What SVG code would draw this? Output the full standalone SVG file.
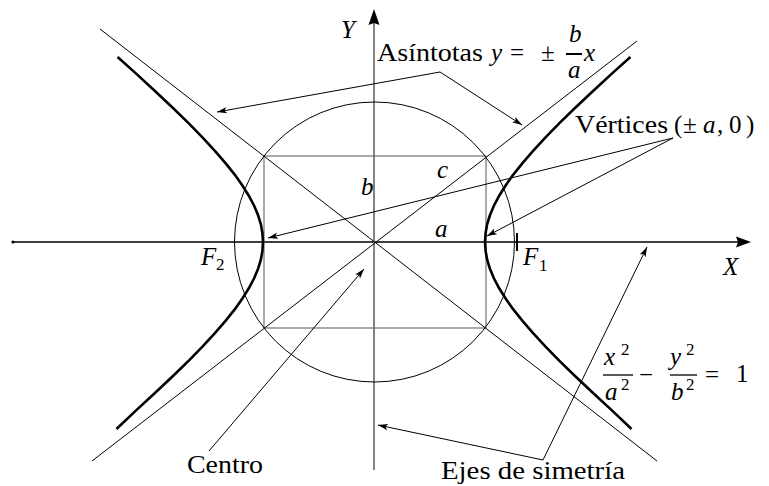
<svg xmlns="http://www.w3.org/2000/svg" width="769" height="486" viewBox="0 0 769 486" font-family="Liberation Serif, DejaVu Serif, serif">
<style>
text{font-family:'Liberation Serif','DejaVu Serif',serif;font-size:25px;fill:#000}
.i{font-style:italic}
.s{font-size:17px}
.thin{fill:none;stroke:#000;stroke-width:1}
.gray{fill:none;stroke:#666;stroke-width:1.1}
.curve{fill:none;stroke:#000;stroke-width:2.6;stroke-linejoin:round}
.lead{fill:none;stroke:#000;stroke-width:1}
</style>
<defs>
<marker id="ah" markerUnits="userSpaceOnUse" markerWidth="12" markerHeight="8" refX="10" refY="4" orient="auto-start-reverse">
<path d="M0,0.8 L10,4 L0,7.2 L2.5,4 Z" fill="#000"/>
</marker>
</defs>
<rect width="769" height="486" fill="#fff"/>

<g id="axes">
<line x1="13" y1="242" x2="740" y2="242" stroke="#000" stroke-width="1.4"/>
<circle cx="13" cy="242" r="1.6" fill="#000"/>
<path d="M751,242 L736,236.5 L738,242 L736,247.5 Z" fill="#000"/>
<line x1="374" y1="470" x2="374" y2="22" stroke="#777" stroke-width="1.8"/>
<path d="M374,9 L368.5,25 L374,23 L379.5,25 Z" fill="#000"/>
<line x1="517" y1="233" x2="517" y2="251" stroke="#000" stroke-width="2"/>
</g>

<g id="rectangle">
<rect x="264" y="156" width="222" height="172" class="gray"/>
</g>

<g id="circle">
<circle cx="374.5" cy="242" r="140" class="thin"/>
</g>

<g id="asymptotes">
<line x1="100" y1="29" x2="657" y2="461" class="thin"/>
<line x1="637" y1="41" x2="92" y2="461" class="thin"/>
</g>

<g id="hyperbola">
<polyline class="curve" points="630.4,57 612.7,72.9 592.8,91.2 575,108 559.2,123.4 545.3,137.6 533.1,150.8 522.5,163.1 513.3,174.6 505.6,185.5 499.2,195.7 494,205.5 490,215 487.2,224.1 485.6,233.1 485,242 485.6,250.9 487.2,259.9 490,269 494,278.5 499.2,288.3 505.6,298.5 513.3,309.4 522.5,320.9 533.1,333.2 545.3,346.4 559.2,360.6 575,376 592.8,392.8 612.7,411.1 631.5,429"/>
<polyline class="curve" points="117.6,57 135.3,72.9 155.2,91.2 173,108 188.8,123.4 202.7,137.6 214.9,150.8 225.5,163.1 234.7,174.6 242.4,185.5 248.8,195.7 254,205.5 258,215 260.8,224.1 262.4,233.1 263,242 262.4,250.9 260.8,259.9 258,269 254,278.5 248.8,288.3 242.4,298.5 234.7,309.4 225.5,320.9 214.9,333.2 202.7,346.4 188.8,360.6 173,376 155.2,392.8 135.3,411.1 116.5,429"/>
</g>

<g id="connectors">
<polyline class="lead" points="217,112 440,72 522,125" marker-start="url(#ah)" marker-end="url(#ah)"/>
<polyline class="lead" points="268,238 673,138 487,236" marker-start="url(#ah)" marker-end="url(#ah)"/>
<line class="lead" x1="209" y1="451" x2="364" y2="269" marker-end="url(#ah)"/>
<polyline class="lead" points="378,425 543,460 647,247" marker-start="url(#ah)" marker-end="url(#ah)"/>
</g>

<g id="labels">
<text class="i" x="341" y="38">Y</text>
<text class="i" x="723" y="275">X</text>
<text class="i" x="201" y="265">F</text><text class="s" x="216" y="270">2</text>
<text class="i" x="523" y="265">F</text><text class="s" x="539" y="271">1</text>
<text class="i" x="361" y="195">b</text>
<text class="i" x="437" y="178">c</text>
<text class="i" x="435" y="237">a</text>
</g>

<g id="asintotas-label">
<text x="377" y="61" textLength="106" lengthAdjust="spacingAndGlyphs">Asíntotas</text>
<text class="i" x="491" y="61">y</text>
<text x="510" y="61">=</text>
<text x="541" y="61">±</text>
<text class="i" x="569" y="42">b</text>
<line x1="566" y1="54" x2="582" y2="54" stroke="#000" stroke-width="2"/>
<text class="i" x="568" y="78">a</text>
<text class="i" x="584" y="61">x</text>
</g>

<g id="vertices-label">
<text x="575" y="133" textLength="93" lengthAdjust="spacingAndGlyphs">Vértices</text>
<text x="674" y="133">(</text>
<text x="683" y="133">±</text>
<text class="i" x="703" y="133">a</text>
<text x="717" y="133">,</text>
<text x="729" y="133">0</text>
<text x="746" y="133">)</text>
</g>

<g id="equation">
<text class="i" x="604" y="365">x</text><text class="s" x="621" y="355">2</text>
<line x1="603" y1="375" x2="633" y2="375" stroke="#000" stroke-width="1.3"/>
<text class="i" x="605" y="400">a</text><text class="s" x="621" y="390">2</text>
<text x="639" y="383">−</text>
<text class="i" x="670" y="365">y</text><text class="s" x="686" y="355">2</text>
<line x1="670" y1="375" x2="697" y2="375" stroke="#000" stroke-width="1.3"/>
<text class="i" x="671" y="400">b</text><text class="s" x="686" y="390">2</text>
<text x="705" y="383">=</text>
<text x="736" y="382">1</text>
</g>

<g id="centro-label">
<text x="187" y="473" textLength="76" lengthAdjust="spacingAndGlyphs">Centro</text>
</g>

<g id="ejes-label">
<text x="441" y="479" textLength="184" lengthAdjust="spacingAndGlyphs">Ejes de simetría</text>
</g>
</svg>
